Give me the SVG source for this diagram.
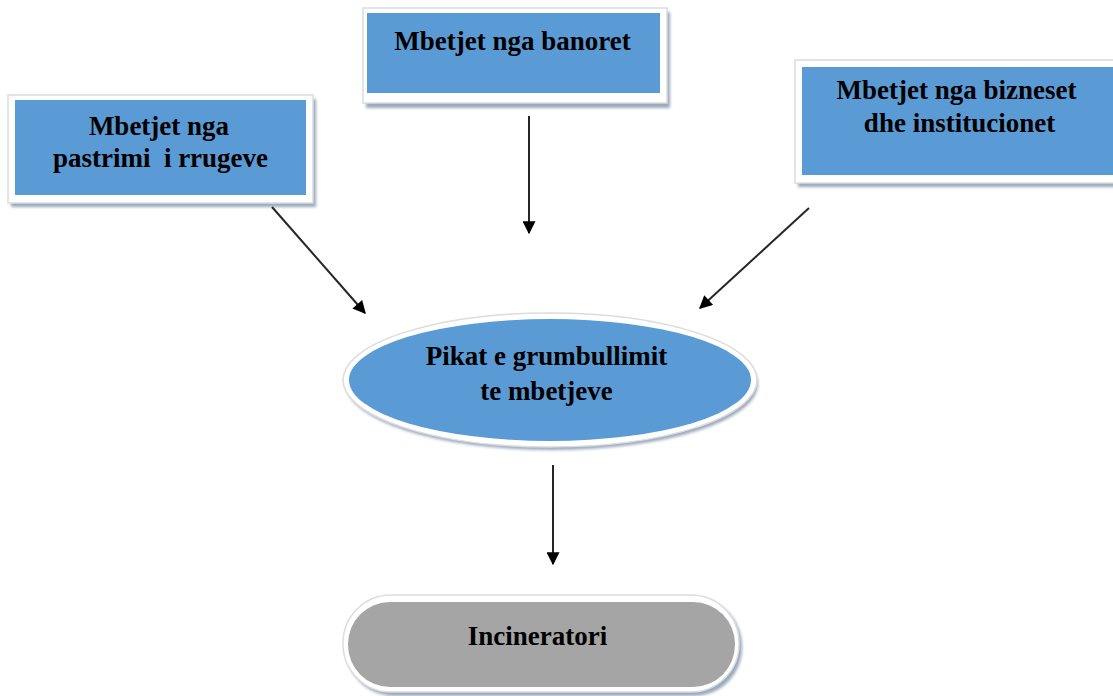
<svg xmlns="http://www.w3.org/2000/svg" width="1113" height="696" viewBox="0 0 1113 696">
<defs>
<style>
.frame{fill:#ffffff;stroke:#dcdcdc;stroke-width:1.5}
.shadow{fill:#9aa9bd;filter:url(#blur)}
.blue{fill:#5b9bd5}
.gray{fill:#a5a5a5}
.t{font-family:"Liberation Serif","Times New Roman",serif;font-weight:bold;font-size:27px;fill:#000;text-anchor:middle;white-space:pre}
.conn{stroke:#262626;stroke-width:2;fill:none;marker-end:url(#arr)}
</style>
<filter id="blur" x="-10%" y="-10%" width="120%" height="130%"><feGaussianBlur stdDeviation="1.5"/></filter>
<marker id="arr" viewBox="0 0 10 10" refX="9" refY="5" markerWidth="15" markerHeight="13" markerUnits="userSpaceOnUse" orient="auto">
<path d="M0,0 L10,5 L0,10 z" fill="#000"/>
</marker>
</defs>
<rect width="1113" height="696" fill="#fff"/>

<g id="node-rrugeve">
<rect class="shadow" x="11" y="99" width="305" height="108"/>
<rect class="frame" x="8" y="95" width="305" height="108"/>
<rect class="blue" x="15" y="100" width="291" height="95"/>
<text class="t" x="159" y="135">Mbetjet nga</text>
<text class="t" x="160.5" y="167" xml:space="preserve">pastrimi  i rrugeve</text>
</g>

<g id="node-banoret">
<rect class="shadow" x="366" y="12" width="304" height="96"/>
<rect class="frame" x="363" y="8" width="304" height="95"/>
<rect class="blue" x="367" y="13" width="293" height="80"/>
<text class="t" x="512.5" y="50">Mbetjet nga banoret</text>
</g>

<g id="node-bizneset">
<rect class="shadow" x="798" y="64" width="330" height="123"/>
<rect class="frame" x="795" y="60" width="330" height="123"/>
<rect class="blue" x="802" y="67" width="320" height="108"/>
<text class="t" x="956.5" y="99">Mbetjet nga bizneset</text>
<text class="t" x="959.5" y="132">dhe institucionet</text>
</g>

<g id="node-pikat">
<ellipse class="shadow" cx="552" cy="384" rx="206" ry="66"/>
<ellipse cx="550" cy="380" rx="207" ry="67" fill="#fff" stroke="#dcdcdc" stroke-width="1.5"/>
<ellipse class="blue" cx="550" cy="380" rx="201" ry="61"/>
<text class="t" x="546.5" y="365">Pikat e grumbullimit</text>
<text class="t" x="546.5" y="400">te mbetjeve</text>
</g>

<g id="node-incineratori">
<rect class="shadow" x="346" y="598" width="396" height="98" rx="48"/>
<rect x="343" y="595" width="396" height="97" rx="48" fill="#fff" stroke="#dcdcdc" stroke-width="1.5"/>
<rect class="gray" x="348" y="602" width="387" height="85" rx="42"/>
<text class="t" x="537.5" y="645">Incineratori</text>
</g>

<g id="connectors">
<line class="conn" x1="272" y1="207" x2="365" y2="313"/>
<line class="conn" x1="529" y1="116" x2="529" y2="233"/>
<line class="conn" x1="809" y1="208" x2="700" y2="308"/>
<line class="conn" x1="553" y1="465" x2="553" y2="564"/>
</g>
</svg>
